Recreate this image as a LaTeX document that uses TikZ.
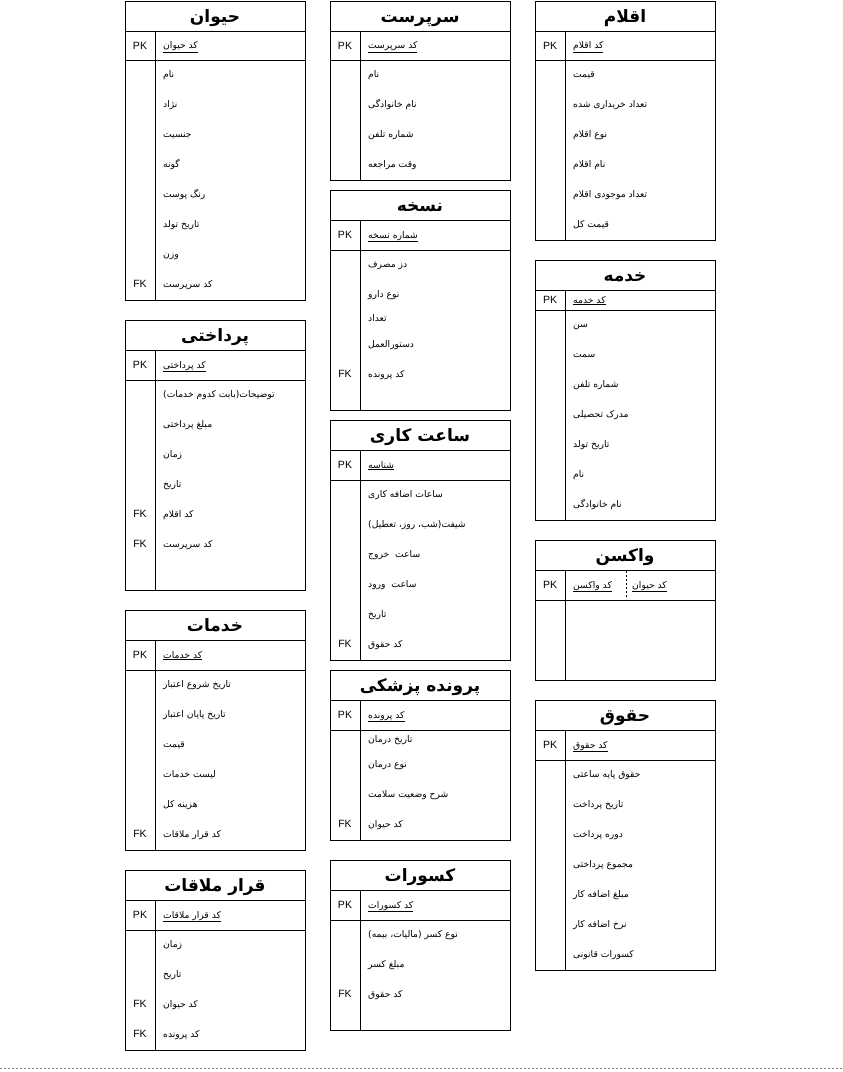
\documentclass[tikz,border=0pt]{standalone}
\usepackage{fontspec}
\setmainfont{Liberation Sans}
\newfontfamily\arb[Script=Arabic]{DejaVu Sans}
\TeXXeTstate=1
\tikzset{
 frame/.style={line width=0.9pt, draw=black},
 ttl/.style={inner sep=0pt, anchor=base, font=\arb\bfseries\fontsize{17}{20}\selectfont},
 key/.style={inner sep=0pt, font=\fontsize{10.5}{12}\selectfont},
 fld/.style={inner sep=0pt, anchor=base west, font=\arb\fontsize{9.2}{11}\selectfont},
 sep/.style={gray, line width=0.8pt, dash pattern=on 2pt off 2pt},
}
\newcommand\ertab[7]{%
 \draw[frame] (#2,#3) rectangle ({#2+180},#5);
 \draw[frame] (#2,{#3+30}) -- ({#2+180},{#3+30});
 \draw[frame] (#2,#4) -- ({#2+180},#4);
 \draw[frame] ({#2+30},{#3+30}) -- ({#2+30},#5);
 \node[ttl] (#1-title) at ({#2+90},{#3+21.5}) {#6};
 \node[key] (#1-pk) at ({#2+15},{(#3+30+#4)/2}) {PK};
 \node[fld] (#1-key) at ({#2+38},{(#3+30+#4)/2+3}) {\underline{#7}};
}
\newcommand\fld[4]{\node[fld] (#1) at ({#2+38},{#3+3}) {#4};}
\newcommand\fk[3]{\node[key] (#1) at ({#2+15},#3) {FK};}
\begin{document}
\begin{tikzpicture}[x=1pt,y=-1pt]
\useasboundingbox (0,0) rectangle (843,1072);
% ---------- column A
\ertab{hv}{125}{1}{60}{300}{\beginR حیوان\endR}{\beginR کد حیوان\endR}
\fld{hv1}{125}{74}{\beginR نام\endR}
\fld{hv2}{125}{104}{\beginR نژاد\endR}
\fld{hv3}{125}{134}{\beginR جنسیت\endR}
\fld{hv4}{125}{164}{\beginR گونه\endR}
\fld{hv5}{125}{194}{\beginR رنگ پوست\endR}
\fld{hv6}{125}{224}{\beginR تاریخ تولد\endR}
\fld{hv7}{125}{254}{\beginR وزن\endR}
\fld{hv8}{125}{284}{\beginR کد سرپرست\endR}
\fk{hvf1}{125}{284}

\ertab{pr}{125}{320}{380}{590}{\beginR پرداختی\endR}{\beginR کد پرداختی\endR}
\fld{pr1}{125}{394}{\beginR توضیحات(بابت کدوم خدمات)\endR}
\fld{pr2}{125}{424}{\beginR مبلغ پرداختی\endR}
\fld{pr3}{125}{454}{\beginR زمان\endR}
\fld{pr4}{125}{484}{\beginR تاریخ\endR}
\fld{pr5}{125}{514}{\beginR کد اقلام\endR}
\fld{pr6}{125}{544}{\beginR کد سرپرست\endR}
\fk{prf1}{125}{514}
\fk{prf2}{125}{544}

\ertab{kh}{125}{610}{670}{850}{\beginR خدمات\endR}{\beginR کد خدمات\endR}
\fld{kh1}{125}{684}{\beginR تاریخ شروع اعتبار\endR}
\fld{kh2}{125}{714}{\beginR تاریخ پایان اعتبار\endR}
\fld{kh3}{125}{744}{\beginR قیمت\endR}
\fld{kh4}{125}{774}{\beginR لیست خدمات\endR}
\fld{kh5}{125}{804}{\beginR هزینه کل\endR}
\fld{kh6}{125}{834}{\beginR کد قرار ملاقات\endR}
\fk{khf1}{125}{834}

\ertab{gm}{125}{870}{930}{1050}{\beginR قرار ملاقات\endR}{\beginR کد قرار ملاقات\endR}
\fld{gm1}{125}{944}{\beginR زمان\endR}
\fld{gm2}{125}{974}{\beginR تاریخ\endR}
\fld{gm3}{125}{1004}{\beginR کد حیوان\endR}
\fld{gm4}{125}{1034}{\beginR کد پرونده\endR}
\fk{gmf1}{125}{1004}
\fk{gmf2}{125}{1034}

% ---------- column B
\ertab{sp}{330}{1}{60}{180}{\beginR سرپرست\endR}{\beginR کد سرپرست\endR}
\fld{sp1}{330}{74}{\beginR نام\endR}
\fld{sp2}{330}{104}{\beginR نام خانوادگی\endR}
\fld{sp3}{330}{134}{\beginR شماره تلفن\endR}
\fld{sp4}{330}{164}{\beginR وقت مراجعه\endR}

\ertab{ns}{330}{190}{250}{410}{\beginR نسخه\endR}{\beginR شماره نسخه\endR}
\fld{ns1}{330}{264}{\beginR دز مصرف\endR}
\fld{ns2}{330}{294}{\beginR نوع دارو\endR}
\fld{ns3}{330}{318}{\beginR تعداد\endR}
\fld{ns4}{330}{344}{\beginR دستورالعمل\endR}
\fld{ns5}{330}{374}{\beginR کد پرونده\endR}
\fk{nsf1}{330}{374}

\ertab{sk}{330}{420}{480}{660}{\beginR ساعت کاری\endR}{\beginR شناسه\endR}
\fld{sk1}{330}{494}{\beginR ساعات اضافه کاری\endR}
\fld{sk2}{330}{524}{\beginR شیفت(شب، روز، تعطیل)\endR}
\fld{sk3}{330}{554}{\beginR ساعت\ \ خروج\endR}
\fld{sk4}{330}{584}{\beginR ساعت\ \ ورود\endR}
\fld{sk5}{330}{614}{\beginR تاریخ\endR}
\fld{sk6}{330}{644}{\beginR کد حقوق\endR}
\fk{skf1}{330}{644}

\ertab{pp}{330}{670}{730}{840}{\beginR پرونده پزشکی\endR}{\beginR کد پرونده\endR}
\fld{pp1}{330}{739}{\beginR تاریخ درمان\endR}
\fld{pp2}{330}{764}{\beginR نوع درمان\endR}
\fld{pp3}{330}{794}{\beginR شرح وضعیت سلامت\endR}
\fld{pp4}{330}{824}{\beginR کد حیوان\endR}
\fk{ppf1}{330}{824}

\ertab{ks}{330}{860}{920}{1030}{\beginR کسورات\endR}{\beginR کد کسورات\endR}
\fld{ks1}{330}{934}{\beginR نوع کسر (مالیات، بیمه)\endR}
\fld{ks2}{330}{964}{\beginR مبلغ کسر\endR}
\fld{ks3}{330}{994}{\beginR کد حقوق\endR}
\fk{ksf1}{330}{994}

% ---------- column C
\ertab{aq}{535}{1}{60}{240}{\beginR اقلام\endR}{\beginR کد اقلام\endR}
\fld{aq1}{535}{74}{\beginR قیمت\endR}
\fld{aq2}{535}{104}{\beginR تعداد خریداری شده\endR}
\fld{aq3}{535}{134}{\beginR نوع اقلام\endR}
\fld{aq4}{535}{164}{\beginR نام اقلام\endR}
\fld{aq5}{535}{194}{\beginR تعداد موجودی اقلام\endR}
\fld{aq6}{535}{224}{\beginR قیمت کل\endR}

\ertab{km}{535}{260}{310}{520}{\beginR خدمه\endR}{\beginR کد خدمه\endR}
\fld{km1}{535}{324}{\beginR سن\endR}
\fld{km2}{535}{354}{\beginR سمت\endR}
\fld{km3}{535}{384}{\beginR شماره تلفن\endR}
\fld{km4}{535}{414}{\beginR مدرک تحصیلی\endR}
\fld{km5}{535}{444}{\beginR تاریخ تولد\endR}
\fld{km6}{535}{474}{\beginR نام\endR}
\fld{km7}{535}{504}{\beginR نام خانوادگی\endR}

\ertab{vk}{535}{540}{600}{680}{\beginR واکسن\endR}{\beginR کد واکسن\endR}
\draw[frame, dash pattern=on 2pt off 2pt] (626,571) -- (626,599);
\node[fld] (vk-key2) at (632,588) {\underline{\beginR کد حیوان\endR}};

\ertab{hq}{535}{700}{760}{970}{\beginR حقوق\endR}{\beginR کد حقوق\endR}
\fld{hq1}{535}{774}{\beginR حقوق پایه ساعتی\endR}
\fld{hq2}{535}{804}{\beginR تاریخ پرداخت\endR}
\fld{hq3}{535}{834}{\beginR دوره پرداخت\endR}
\fld{hq4}{535}{864}{\beginR مجموع پرداختی\endR}
\fld{hq5}{535}{894}{\beginR مبلغ اضافه کار\endR}
\fld{hq6}{535}{924}{\beginR نرخ اضافه کار\endR}
\fld{hq7}{535}{954}{\beginR کسورات قانونی\endR}

% ---------- page separator
\draw[sep] (0,1068) -- (843,1068);
\end{tikzpicture}
\end{document}
